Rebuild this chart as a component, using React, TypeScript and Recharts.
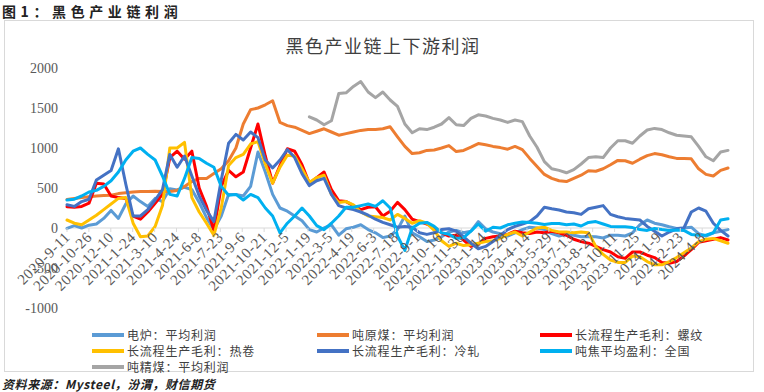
import React from 'react';
import { LineChart, Line, XAxis, YAxis, ReferenceLine } from 'recharts';

// ---------- data ----------
const TICK_LABELS = [
  '2020-9-11', '2020-10-26', '2020-12-10', '2021-1-24', '2021-3-10', '2021-4-24',
  '2021-6-8', '2021-7-23', '2021-9-6', '2021-10-21', '2021-12-5', '2022-1-19',
  '2022-3-5', '2022-4-19', '2022-6-3', '2022-7-18', '2022-9-1', '2022-10-16',
  '2022-11-30', '2023-1-14', '2023-2-28', '2023-4-14', '2023-5-29', '2023-7-13',
  '2023-8-27', '2023-10-11', '2023-11-25', '2024-1-9', '2024-2-23', '2024-4-8',
];
const TICK_STEP_DAYS = 45;
const LAST_DAY = 1358; // days after 2020-9-11 of the last observation
const Y_TICKS = [-1000, -500, 0, 500, 1000, 1500, 2000];

// 电炉：平均利润
const eafProfit = [
  -5, 30, 0, 35, 50, 120, 220, 120, 300, 400,
  330, 270, 370, 330, 490, 475, 510, 480, 320, 130,
  -20, 150, 420, 420, 400, 520, 950, 700, 420, 250,
  210, 150, 90, -20, -50, 0, 40, -90, -10, 10,
  40, -20, -60, -120, -100, -20, 150, -60, -110, -170,
  -150, -110, -50, -30, -60, -40, 80, -10, -50, -70,
  -100, -60, -20, 10, 0, -20, -70, -100, -80, -90,
  -110, -105, -110, -125, -90, -90, -100, -60, 40, 100,
  60, 40, 15, -5, 0, 10, -70, -100, -60, -40,
  -20,
];
// 吨原煤：平均利润
const rawCoalProfit = [
  355, 370, 380, 390, 400, 405, 410, 430, 440, 450,
  455, 455, 460, 455, 455, 470, 520, 580, 620, 620,
  680, 740, 840, 1000, 1300, 1480, 1500, 1540, 1590, 1320,
  1280, 1260, 1220, 1180, 1210, 1240, 1200, 1160, 1180, 1200,
  1220, 1230, 1230, 1240, 1265, 1140, 1020, 930, 940, 970,
  975, 1000, 1030, 955, 970, 1010, 1055, 1040, 1020, 1005,
  985, 1020, 980, 870, 770, 670, 620, 590, 580, 620,
  660, 715, 710, 740, 790, 845, 840, 810, 860, 905,
  930, 915, 890, 870, 870, 865, 740, 670, 650, 720,
  750,
];
// 长流程生产毛利：螺纹
const rebarMargin = [
  265, 260, 270, 310, 560, 550, 400, 380, 370, 150,
  110, 200, 310, 420, 880, 960, 860, 960, 500, 270,
  -30, 520, 720, 640, 700, 1000, 1300, 900, 560, 780,
  990, 960, 790, 560, 630, 700, 480, 340, 330, 280,
  230, 260, 265, 150, 210, 320, 230, 110, 80, 50,
  10, -60, -100, -90, -150, -230, -200, -130, -110, -100,
  -80, -40, -60, -70, -50, -60, -40, -60, -90, -140,
  -170, -190, -230, -270, -300, -360, -380, -300, -300, -340,
  -370, -430, -440, -420, -350, -270, -180, -160, -140, -120,
  -150,
];
// 长流程生产毛利：热卷
const hrcMargin = [
  100, 60, 40, 100, 160, 230, 300, 370, 380, 60,
  -110, -100, 20, 280, 1000, 1000, 1070, 380, 200, 60,
  -90, 250, 780, 880, 920, 1050, 1080, 800, 560, 760,
  910, 900, 740, 570, 630, 660, 420, 320, 330, 290,
  200, 150, 140, 130, 100, 170, 120, 60, 90, 60,
  -30, -160, -230, -190, -220, -210, -190, -170, -160, -130,
  -80, -50, -100, -50, 0, 10, -30, -50, -50, -60,
  -50, -60, -230, -330, -400, -430, -430, -350, -360, -420,
  -460, -460, -420, -370, -310, -250, -170, -140, -130, -160,
  -190,
];
// 长流程生产毛利：冷轧
const crcMargin = [
  290, 270, 330, 360, 600, 660, 720, 990, 550, 150,
  150, 230, 350, 480, 920, 760, 900, 650, 400, 220,
  80, 600, 1060, 1170, 1100, 1200, 1130, 850, 750, 850,
  980, 880, 680, 530, 590, 620, 420, 280, 250, 230,
  200, 160, 110, 70, 40, 10, 20, 10, -60, -80,
  -60, -20, -10, -40, -110, -190, -260, -230, -170, -90,
  -20, 20, 50, 80, 150, 260, 240, 225, 200, 190,
  170, 240, 260, 280, 170, 140, 120, 110, 100, 20,
  -40, -100, -50, -10, 0, 200, 250, 210, 60, -30,
  -100,
];
// 吨焦平均盈利：全国
const cokeProfit = [
  350, 360, 400, 450, 470, 520, 590, 700, 850, 960,
  1000, 920, 850, 650, 420, 400, 620, 880, 870, 810,
  760, 520, 410, 420, 350, 420, 380, 250, 150, -60,
  60, 150, 250, 150, 30, -20, 60, 150, 260, 260,
  280, 300, 270, 340, 250, -100, -280, 0, 60, 70,
  20, -60, -80, -130, -120, -40, 50, -40, 10, 0,
  40, 60, 75, 70, 60, 45, 55, 55, 40, 50,
  25, 70, 80, 50, 20, 15, 15, 5, -20, -30,
  -5, -20, -30, -25, -30, -80, -90, -90, -60, 100,
  115,
];
// 吨精煤：平均利润 (series starts in early 2022)
const cleanCoalProfit: (number | null)[] = [
  null, null, null, null, null, null, null, null, null, null,
  null, null, null, null, null, null, null, null, null, null,
  null, null, null, null, null, null, null, null, null, null,
  null, null, null, 1390, 1350, 1290, 1340, 1680, 1690, 1770,
  1830, 1700, 1630, 1700, 1600, 1520, 1300, 1190, 1240, 1230,
  1260, 1300, 1380, 1290, 1280, 1370, 1415, 1400, 1370, 1350,
  1320, 1350, 1330, 1150, 1010, 830, 740, 720, 690, 730,
  800, 880, 890, 880, 1000, 1090, 1090, 1060, 1150, 1225,
  1245, 1230, 1190, 1160, 1150, 1140, 1020, 890, 840, 950,
  970,
];

const SERIES = [
  { key: 'eaf', name: '电炉：平均利润', color: '#5B9BD5', values: eafProfit },
  { key: 'rawCoal', name: '吨原煤：平均利润', color: '#ED7D31', values: rawCoalProfit },
  { key: 'rebar', name: '长流程生产毛利：螺纹', color: '#FF0000', values: rebarMargin },
  { key: 'hrc', name: '长流程生产毛利：热卷', color: '#FFC000', values: hrcMargin },
  { key: 'crc', name: '长流程生产毛利：冷轧', color: '#4472C4', values: crcMargin },
  { key: 'coke', name: '吨焦平均盈利：全国', color: '#00B0F0', values: cokeProfit },
  { key: 'cleanCoal', name: '吨精煤：平均利润', color: '#A5A5A5', values: cleanCoalProfit },
];

const POINT_COUNT = eafProfit.length;
const rows = Array.from({ length: POINT_COUNT }, (_, i) => {
  const row: Record<string, number | null> = { t: (i * LAST_DAY) / (POINT_COUNT - 1) };
  SERIES.forEach((s) => {
    row[s.key] = s.values[i] ?? null;
  });
  return row;
});
const TICK_DAYS = TICK_LABELS.map((_, i) => i * TICK_STEP_DAYS);

// ---------- layout ----------
const W = 764;
const H = 392;
const PLOT_TOP = 68;
const PLOT_BOTTOM = 308;
const PLOT_LEFT = 67;
const PLOT_RIGHT = 728;
const YAXIS_W = 60;
const XAXIS_H = 30;
const Y_MIN = Y_TICKS[0];
const Y_MAX = Y_TICKS[Y_TICKS.length - 1];
const ZERO_Y = PLOT_TOP + ((PLOT_BOTTOM - PLOT_TOP) * Y_MAX) / (Y_MAX - Y_MIN);

const SERIF = "'Liberation Serif', 'Times New Roman', serif";
const CJK = "'Noto Sans CJK SC', 'Noto Sans', sans-serif";

function XTick(props: any) {
  const { x, payload } = props;
  const idx = TICK_DAYS.indexOf(payload.value);
  const label = idx >= 0 ? TICK_LABELS[idx] : '';
  const ax = x + 4;
  const ay = ZERO_Y + 10;
  return (
    <g>
      <line x1={x} x2={x} y1={ZERO_Y} y2={ZERO_Y + 4} stroke="#d9d9d9" strokeWidth={1} />
      <text
        x={ax}
        y={ay}
        transform={`rotate(-45 ${ax} ${ay})`}
        textAnchor="end"
        fontFamily={SERIF}
        fontSize={15}
        letterSpacing={0.6}
        fill="#595959"
      >
        {label}
      </text>
    </g>
  );
}

const legendRows = [
  [SERIES[0], SERIES[1], SERIES[2]],
  [SERIES[3], SERIES[4], SERIES[5]],
  [SERIES[6]],
];
const LEGEND_COL_X = [92, 317, 540];
const LEGEND_ROW_CENTER = 335;
const LEGEND_ROW_STEP = 16;

export default function App() {
  return (
    <div style={{ position: 'absolute', left: 0, top: 0, width: W, height: H, background: '#fff', overflow: 'hidden' }}>
      <div
        style={{
          position: 'absolute', left: 2, top: 3, fontFamily: CJK, fontWeight: 700,
          fontSize: 14, letterSpacing: 4.6, color: '#222', lineHeight: '16px', whiteSpace: 'nowrap',
        }}
      >
        图1：黑色产业链利润
      </div>
      <div
        style={{
          position: 'absolute', left: 4, top: 20, width: 750, height: 352,
          border: '1px solid #d9d9d9', boxSizing: 'border-box',
        }}
      />
      <div
        style={{
          position: 'absolute', left: 0, top: 34, width: 766, textAlign: 'center', fontFamily: CJK,
          fontSize: 18, letterSpacing: 1.5, color: '#404040', lineHeight: '22px',
        }}
      >
        黑色产业链上下游利润
      </div>
      <div style={{ position: 'absolute', left: 0, top: 0 }}>
        <LineChart
          width={W}
          height={H}
          data={rows}
          margin={{ top: PLOT_TOP, right: W - PLOT_RIGHT, bottom: H - PLOT_BOTTOM - XAXIS_H, left: PLOT_LEFT - YAXIS_W }}
        >
          <XAxis
            dataKey="t"
            type="number"
            domain={[0, LAST_DAY]}
            ticks={TICK_DAYS}
            interval={0}
            height={XAXIS_H}
            axisLine={false}
            tickLine={false}
            tick={XTick}
          />
          <YAxis
            type="number"
            domain={[Y_MIN, Y_MAX]}
            ticks={Y_TICKS}
            interval={0}
            width={YAXIS_W}
            axisLine={false}
            tickLine={false}
            tickMargin={3}
            tick={{ fontFamily: SERIF, fontSize: 14, fill: '#595959' }}
          />
          <ReferenceLine y={0} stroke="#d9d9d9" strokeWidth={1} />
          {SERIES.map((s) => (
            <Line
              key={s.key}
              dataKey={s.key}
              name={s.name}
              type="linear"
              stroke={s.color}
              strokeWidth={3}
              strokeLinejoin="round"
              strokeLinecap="round"
              dot={false}
              activeDot={false}
              connectNulls={false}
              isAnimationActive={false}
            />
          ))}
        </LineChart>
      </div>
      {legendRows.map((row, r) =>
        row.map((s, c) => (
          <div
            key={s.key}
            style={{
              position: 'absolute', left: LEGEND_COL_X[c], top: LEGEND_ROW_CENTER + r * LEGEND_ROW_STEP - 7,
              height: 14, display: 'flex', alignItems: 'center', whiteSpace: 'nowrap',
            }}
          >
            <span style={{ display: 'inline-block', width: 32, height: 4, background: s.color }} />
            <span
              style={{
                display: 'inline-block', height: 14, marginLeft: 3, letterSpacing: 0.8,
                fontFamily: CJK, fontSize: 12, lineHeight: '14px', color: '#404040',
              }}
            >
              {s.name}
            </span>
          </div>
        ))
      )}
      <div
        style={{
          position: 'absolute', left: 2, top: 377, fontFamily: CJK, fontSize: 12, fontStyle: 'italic',
          fontWeight: 700, color: '#222', whiteSpace: 'nowrap', lineHeight: '14px', letterSpacing: 0.6,
        }}
      >
        资料来源：Mysteel，汾渭，财信期货
      </div>
    </div>
  );
}
